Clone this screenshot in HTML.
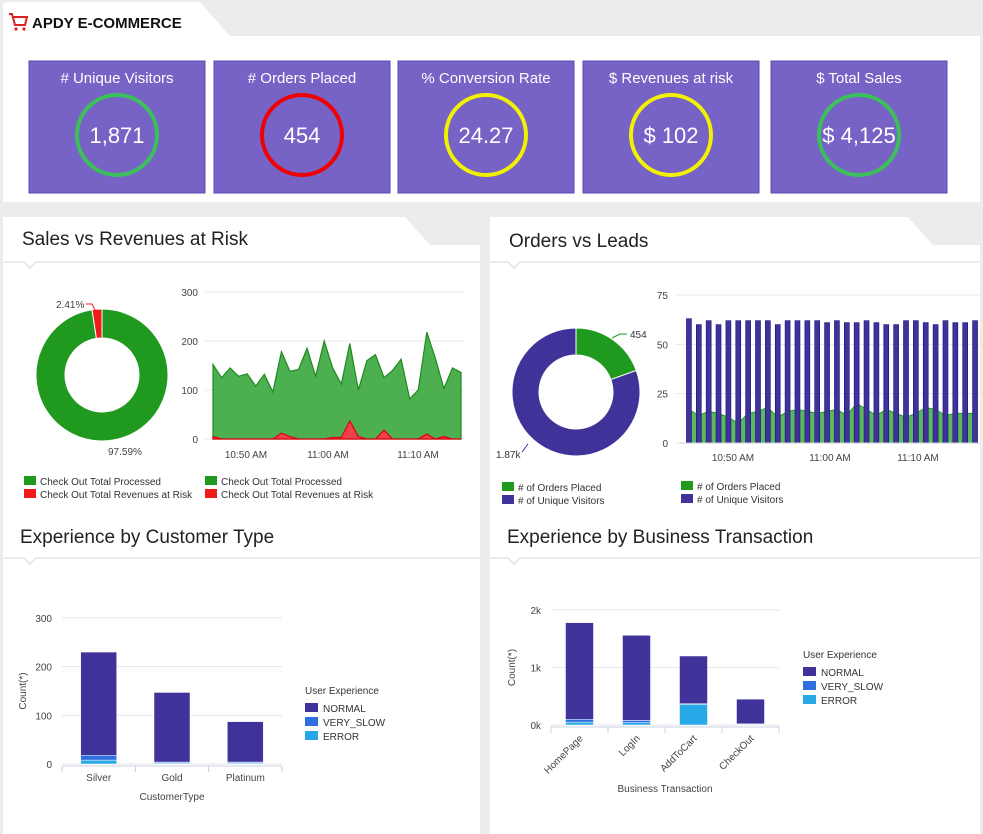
<!DOCTYPE html>
<html><head><meta charset="utf-8"><style>
html,body{margin:0;padding:0;background:#ececec;width:983px;height:834px;overflow:hidden;font-family:"Liberation Sans",sans-serif}
svg{display:block}
</style></head><body>
<svg id="s" width="983" height="834" xmlns="http://www.w3.org/2000/svg" font-family="Liberation Sans, sans-serif">
<rect x="0" y="0" width="983" height="834" fill="#ececec"/>
<path d="M3,36 L3,4 Q3,2 6,2 L200,2 L230,36 L980,36 L980,202 L3,202 Z" fill="#fff"/>
<g fill="#e02020"><path d="M9,14 h3 l3,11 h10 l2,-8 h-14" stroke="#e02020" stroke-width="2" fill="none"/><circle cx="16" cy="29" r="1.6"/><circle cx="24" cy="29" r="1.6"/></g>
<text x="32" y="28" font-size="15" font-weight="bold" fill="#111">APDY E-COMMERCE</text>
<path d="M3,262 L3,217 L405,217 L430,245 L480,245 L480,834 L3,834 Z" fill="#fff"/>
<path d="M490,262 L490,217 L908,217 L933,245 L980,245 L980,834 L490,834 Z" fill="#fff"/>
<g stroke="#d8d8d8" fill="none"><path d="M3,262 H24 L30,268 L36,262 H480"/><path d="M490,262 H508 L514,268 L520,262 H980"/><path d="M3,558 H24 L30,564 L36,558 H480"/><path d="M490,558 H508 L514,564 L520,558 H980"/></g>
<text x="22" y="245" font-size="19" fill="#222">Sales vs Revenues at Risk</text>
<text x="509" y="247" font-size="19" fill="#222">Orders vs Leads</text>
<text x="20" y="543" font-size="19" fill="#222">Experience by Customer Type</text>
<text x="507" y="543" font-size="19" fill="#222">Experience by Business Transaction</text>
<g id="g"></g>
</svg>
<script>
const kpiLabels=["# Unique Visitors","# Orders Placed","% Conversion Rate","$ Revenues at risk","$ Total Sales"];
const kpiValues=["1,871","454","24.27","$ 102","$ 4,125"];
const kpiColors=["#3cc15a","#f00000","#f2f200","#f2f200","#3cc15a"];
const salesPie=[97.59,2.41];
const salesGreen=[152,125,145,128,133,108,132,96,178,138,142,185,128,200,145,112,195,100,160,172,125,140,163,82,100,218,165,103,145,136];
const salesRed=[5,0,0,0,0,0,0,0,12,5,0,0,0,0,3,3,37,5,0,0,18,0,0,0,0,10,0,5,0,0];
const salesTicks=[0,100,200,300];
const ordersPie=[454,1870];
const visitors=[63,60,62,60,62,62,62,62,62,60,62,62,62,62,61,62,61,61,62,61,60,60,62,62,61,60,62,61,61,62];
const orders=[17,14,16,15,13,10,15,16,18,13,16,17,16,15,16,17,14,20,17,14,17,15,13,15,18,17,14,15,15,15];
const ordersTicks=[0,25,50,75];
const timeLabels=["10:50 AM","11:00 AM","11:10 AM"];
const custCats=["Silver","Gold","Platinum"];
const custNormal=[212,143,83];
const custSlow=[10,2,2];
const custError=[8,2,2];
const custTicks=[0,100,200,300];
const btCats=["HomePage","LogIn","AddToCart","CheckOut"];
const btNormal=[1680,1480,830,430];
const btSlow=[50,40,10,10];
const btError=[50,40,360,10];
const btTicks=[0,1000,2000];
const btTickLabels=["0k","1k","2k"];
const expColors=["#3f3399","#2f6fe0","#29a8e8"];
const expNames=["NORMAL","VERY_SLOW","ERROR"];

const NS="http://www.w3.org/2000/svg",G=document.getElementById('g');
function el(t,a,txt,p){const e=document.createElementNS(NS,t);for(const k in a)e.setAttribute(k,a[k]);if(txt!=null)e.textContent=txt;(p||G).appendChild(e);return e;}

const kx=[29,214,398,583,771];
kpiLabels.forEach((l,i)=>{
 const b=el('rect',{x:kx[i],y:61,width:176,height:132,fill:'#7762c5',stroke:'#5b48b3'});
 
 
 const t=el('text',{x:kx[i]+88,y:83,'text-anchor':'middle','font-size':15,fill:'#fff'},l);
 
 
 const c=el('circle',{cx:kx[i]+88,cy:135,r:40,fill:'none',stroke:kpiColors[i],'stroke-width':4});
 
 
 const v=el('text',{x:kx[i]+88,y:143,'text-anchor':'middle','font-size':22,fill:'#fff'},kpiValues[i]);
 
 
});

function arc(cx,cy,r0,r1,a0,a1,fill,name){
 const p=(r,a)=>[cx+r*Math.sin(a),cy-r*Math.cos(a)];
 const lg=(a1-a0)>Math.PI?1:0;
 const [x0,y0]=p(r1,a0),[x1,y1]=p(r1,a1),[x2,y2]=p(r0,a1),[x3,y3]=p(r0,a0);
 const e=el('path',{d:`M${x0},${y0}A${r1},${r1} 0 ${lg} 1 ${x1},${y1}L${x2},${y2}A${r0},${r0} 0 ${lg} 0 ${x3},${y3}Z`,fill:fill,stroke:'#fff','stroke-width':1});
 
 
}
{const tot=salesPie[0]+salesPie[1];const aR=2*Math.PI*salesPie[1]/tot;
 arc(102,375,37,66,0,2*Math.PI-aR,'#1f9a1f','pie-processed');
 arc(102,375,37,66,-aR,0,'#f01b1b','pie-at-risk');
}
el('text',{x:56,y:308,'font-size':10,fill:'#444'},salesPie[1]+'%');
el('path',{d:'M86,304 H92 L96,312',stroke:'#f01b1b',fill:'none'});
el('text',{x:108,y:455,'font-size':10,fill:'#444'},salesPie[0]+'%');

{const x0=213,x1=461,y0=439,yT=292,n=salesGreen.length;
 const X=i=>x0+(x1-x0)*i/(n-1),Y=v=>y0-(y0-yT)*v/300;
 salesTicks.forEach(t=>{el('line',{x1:205,x2:465,y1:Y(t),y2:Y(t),stroke:'#e8e8e8'});el('text',{x:198,y:Y(t)+4,'text-anchor':'end','font-size':10,fill:'#444'},t);});
 let d=`M${X(0)},${y0}`+salesGreen.map((v,i)=>`L${X(i)},${Y(v)}`).join('')+`L${X(n-1)},${y0}Z`;
 const g=el('path',{d:d,fill:'#4caf50',stroke:'#1f8a1f','stroke-width':1.2});
 
 
 d=`M${X(0)},${y0}`+salesRed.map((v,i)=>`L${X(i)},${Y(v)}`).join('')+`L${X(n-1)},${y0}Z`;
 const r=el('path',{d:d,fill:'#f0404a',stroke:'#e00010','stroke-width':1.2});
 
 
 timeLabels.forEach((t,i)=>el('text',{x:[246,328,418][i],y:458,'text-anchor':'middle','font-size':10,fill:'#444'},t));
}
function leg(x,y,c,t){el('rect',{x:x,y:y-9,width:12,height:9,fill:c});el('text',{x:x+16,y:y,'font-size':10,fill:'#333'},t);}
leg(24,485,'#1f9a1f','Check Out Total Processed');leg(24,498,'#f01b1b','Check Out Total Revenues at Risk');
leg(205,485,'#1f9a1f','Check Out Total Processed');leg(205,498,'#f01b1b','Check Out Total Revenues at Risk');

{const tot=ordersPie[0]+ordersPie[1];const a=2*Math.PI*ordersPie[0]/tot;
 arc(576,392,37,64,0,a,'#1f9a1f','pie-orders');arc(576,392,37,64,a,2*Math.PI-0.0001,'#3f3399','pie-visitors');
 el('text',{x:630,y:338,'font-size':10,fill:'#333'},ordersPie[0]);el('path',{d:'M612,338 L620,334 H627',stroke:'#1f9a1f',fill:'none'});
 el('text',{x:496,y:458,'font-size':10,fill:'#333'},'1.87k');el('path',{d:'M522,452 L528,444',stroke:'#3f3399',fill:'none'});
}
{const x0=684,x1=980,y0=443,yT=295,n=visitors.length,step=(x1-x0)/n;
 const Y=v=>y0-(y0-yT)*v/75,X=i=>x0+step*(i+0.5);
 ordersTicks.forEach(t=>{el('line',{x1:676,x2:980,y1:Y(t),y2:Y(t),stroke:'#e8e8e8'});el('text',{x:668,y:Y(t)+4,'text-anchor':'end','font-size':10,fill:'#444'},t);});
 let d=`M${X(0)},${y0}`+orders.map((v,i)=>`L${X(i)},${Y(v)}`).join('')+`L${X(n-1)},${y0}Z`;
 const a=el('path',{d:d,fill:'#5cb85c',stroke:'#1f9a1f'});
 
 
 visitors.forEach((v,i)=>{const b=el('rect',{x:X(i)-2.5,y:Y(v),width:5,height:y0-Y(v),fill:'#3f3399',stroke:'#1a1080','stroke-width':0.6});
  
  });
 el('line',{x1:680,x2:980,y1:y0,y2:y0,stroke:'#ccd'});
 timeLabels.forEach((t,i)=>el('text',{x:[733,830,918][i],y:461,'text-anchor':'middle','font-size':10,fill:'#444'},t));
}
leg(502,491,'#1f9a1f','# of Orders Placed');leg(502,504,'#3f3399','# of Unique Visitors');
leg(681,490,'#1f9a1f','# of Orders Placed');leg(681,503,'#3f3399','# of Unique Visitors');

function stacked(cats,series,ticks,tlabels,max,x0,x1,y0,yT,bw,rot,xtitle,xtx,lx,ly){
 const Y=v=>y0-(y0-yT)*v/max,step=(x1-x0)/cats.length;
 ticks.forEach((t,i)=>{el('line',{x1:x0,x2:x1,y1:Y(t),y2:Y(t),stroke:'#e6e6e6'});el('text',{x:x0-10,y:Y(t)+4,'text-anchor':'end','font-size':10,fill:'#444'},tlabels[i]);});
 el('line',{x1:x0,x2:x1,y1:y0+2,y2:y0+2,stroke:'#c8d0e0'});
 cats.forEach((c,i)=>{const cx=x0+step*(i+0.5);let acc=0;
  el('line',{x1:x0+step*i,x2:x0+step*i,y1:y0+2,y2:y0+8,stroke:'#c8d0e0'});
  [2,1,0].forEach(s=>{const v=series[s][i];const b=el('rect',{x:cx-bw/2,y:Y(acc+v),width:bw,height:Y(acc)-Y(acc+v),fill:expColors[s],stroke:'#fff','stroke-width':0.5});
   
   acc+=v;});
  if(rot)el('text',{x:cx+4,y:y0+14,'text-anchor':'end','font-size':10,fill:'#444',transform:`rotate(-45 ${cx+4} ${y0+14})`},c);
  else el('text',{x:cx,y:y0+17,'text-anchor':'middle','font-size':10,fill:'#444'},c);
 });
 el('line',{x1:x1,x2:x1,y1:y0+2,y2:y0+8,stroke:'#c8d0e0'});
 el('text',{x:xtx,y:xtitle[1],'text-anchor':'middle','font-size':10,fill:'#444'},xtitle[0]);
 el('text',{x:x0-36,y:(y0+yT)/2,'text-anchor':'middle','font-size':10,fill:'#444',transform:`rotate(-90 ${x0-36} ${(y0+yT)/2})`},'Count(*)');
 el('text',{x:lx,y:ly,'font-size':10,fill:'#333'},'User Experience');
 expNames.forEach((n,i)=>{el('rect',{x:lx,y:ly+9+i*14,width:13,height:9,fill:expColors[i]});el('text',{x:lx+18,y:ly+18+i*14,'font-size':10,fill:'#333'},n);});
}
stacked(custCats,[custNormal,custSlow,custError],custTicks,custTicks,300,62,282,764,618,36,false,['CustomerType',800],172,305,694);
stacked(btCats,[btNormal,btSlow,btError],btTicks,btTickLabels,2000,551,779,725,610,28,true,['Business Transaction',792],665,803,658);
</script>
</body></html>
